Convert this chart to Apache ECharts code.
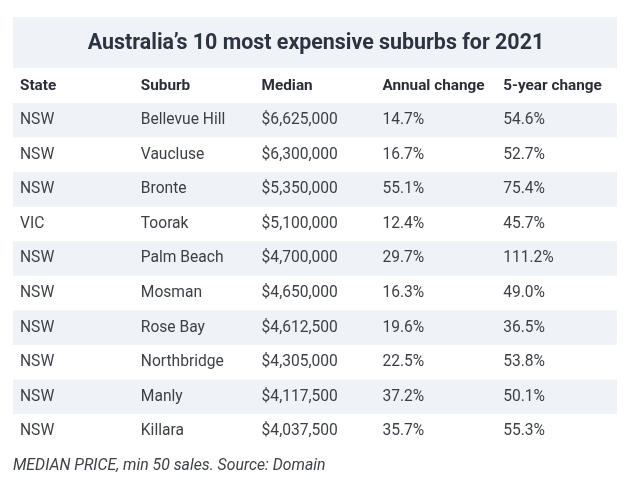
<!DOCTYPE html>
<html>
<head>
<meta charset="utf-8">
<script src="https://cdn.jsdelivr.net/npm/echarts@6/dist/echarts.min.js"></script>
<style>html,body{margin:0;padding:0;background:#fff;}#c{width:623px;height:488px;}</style>
</head>
<body>
<div id="c"></div>
<script>
const titleText = 'Australia\u2019s 10 most expensive suburbs for 2021';
const footnote = 'MEDIAN PRICE, min 50 sales. Source: Domain';
const columns = ['State', 'Suburb', 'Median', 'Annual change', '5-year change'];
const states = ['NSW','NSW','NSW','VIC','NSW','NSW','NSW','NSW','NSW','NSW'];
const suburbs = ['Bellevue Hill','Vaucluse','Bronte','Toorak','Palm Beach','Mosman','Rose Bay','Northbridge','Manly','Killara'];
const medians = [6625000,6300000,5350000,5100000,4700000,4650000,4612500,4305000,4117500,4037500];
const annualChange = [14.7,16.7,55.1,12.4,29.7,16.3,19.6,22.5,37.2,35.7];
const fiveYearChange = [54.6,52.7,75.4,45.7,111.2,49.0,36.5,53.8,50.1,55.3];

const rowKeys = ['header'].concat(suburbs.map((s,i)=>'r'+i));
const fmtMoney = v => '$' + v.toLocaleString('en-US');
const fmtPct = v => v.toFixed(1) + '%';

const cellData = [];
columns.forEach((c,ci)=>cellData.push([ci, 0, c, 1]));
suburbs.forEach((s,i)=>{
  const vals = [states[i], s, fmtMoney(medians[i]), fmtPct(annualChange[i]), fmtPct(fiveYearChange[i])];
  vals.forEach((v,ci)=>cellData.push([ci, i+1, v, 0]));
});
const bandData = [];
suburbs.forEach((s,i)=>{ if(i%2===0) bandData.push([0, i+1]); });

const FONT = 'Roboto, "Noto Sans", sans-serif';
const chart = echarts.init(document.getElementById('c'), null, {renderer:'canvas'});
chart.setOption({
  backgroundColor: '#ffffff',
  animation: false,
  graphic: [{
    type: 'rect', left: 13, top: 17, z: -1,
    shape: {width: 604, height: 51},
    style: {fill: '#eff2f6'}
  }],
  title: [{
    text: titleText, left: 311, textAlign: 'center', top: 28,
    textStyle: {fontFamily: FONT, fontSize: 21.4, fontWeight: 'bold', color: '#2d3441'}
  },{
    text: footnote, left: 8, top: 453,
    textStyle: {fontFamily: FONT, fontSize: 15.8, fontStyle: 'italic', fontWeight: 'normal', color: '#3e4148'}
  }],
  grid: {left: 13, top: 68.4, width: 604, height: 380.2},
  xAxis: {type: 'category', data: columns, show: false},
  yAxis: {type: 'category', data: rowKeys, inverse: true, show: false},
  series: [{
    type: 'custom', z: 1,
    data: bandData,
    renderItem: function(params, api){
      const c = api.coord([0, api.value(1)]);
      const s = api.size([1, 1]);
      return {type: 'rect', shape: {x: c[0]-s[0]/2, y: c[1]-s[1]/2, width: s[0]*5, height: s[1]}, style: {fill: '#eff2f6'}};
    }
  },{
    type: 'custom', z: 2,
    data: cellData,
    renderItem: function(params, api){
      const c = api.coord([api.value(0), api.value(1)]);
      const s = api.size([1, 1]);
      const isHead = cellData[params.dataIndex][3] === 1;
      return {type: 'text', x: c[0]-s[0]/2+7, y: c[1], style: {
        text: cellData[params.dataIndex][2], fontFamily: FONT, fontSize: isHead ? 15.3 : 15.6,
        fontWeight: isHead ? 'bold' : 'normal', fill: isHead ? '#2b2e35' : '#3c3f46',
        textVerticalAlign: 'middle', verticalAlign: 'middle', align: 'left'
      }};
    }
  }]
});
</script>
</body>
</html>
